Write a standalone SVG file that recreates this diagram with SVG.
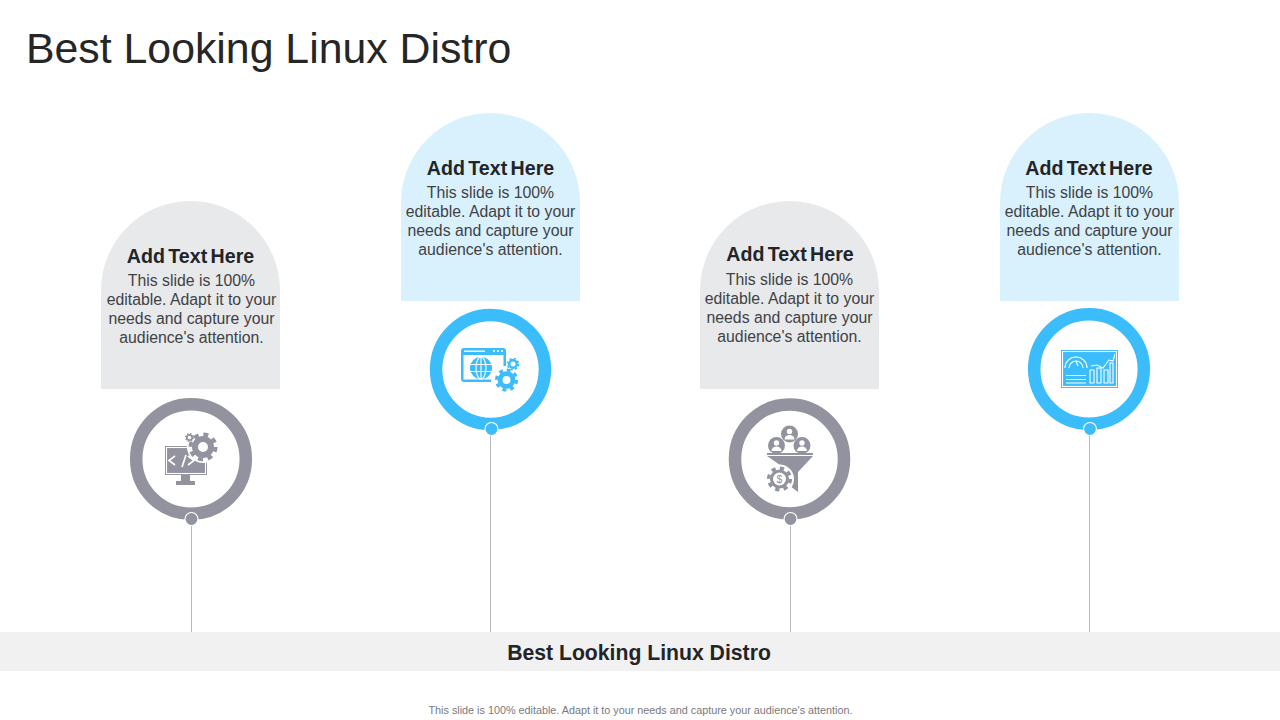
<svg xmlns="http://www.w3.org/2000/svg" width="1280" height="720" viewBox="0 0 1280 720">
<style>
text{font-family:"Liberation Sans",Arial,sans-serif}
.h{font-size:19.600px;font-weight:700;fill:#222428;text-anchor:middle;word-spacing:-2px}
.b{font-size:15.800px;fill:#3f4145;text-anchor:middle}
.ln{stroke:#b9bbc0;stroke-width:1;fill:none}
.ag{fill:#e8e9eb}.ab{fill:#d9f1fd}
.rg{fill:#fff;stroke:#92939f;stroke-width:12.500}.rb{fill:#fff;stroke:#3cbdfb;stroke-width:12.500}
.dg{fill:#92939f;stroke:#fff;stroke-width:1.200}.db{fill:#3cbdfb;stroke:#fff;stroke-width:1.200}
.ig{fill:#92939f}.ib{fill:#3cbdfb}
.w{fill:#fff}.ws{fill:none;stroke:#fff;stroke-width:1.100}.wt{fill:none;stroke:#fff;stroke-width:1.700}
</style>
<defs>
<g id="gear"><circle r="8" fill="none" stroke="currentColor" stroke-width="6"/><circle r="12.500" fill="none" stroke="currentColor" stroke-width="4" stroke-dasharray="4.909 4.909"/></g>
<g id="gear-thin"><circle r="9" fill="none" stroke="currentColor" stroke-width="6"/><circle r="13" fill="none" stroke="currentColor" stroke-width="4" stroke-dasharray="5.105 5.105"/></g>
</defs>
<rect width="1280" height="720" fill="#fff"/>
<text x="26" y="63" font-size="42.800" fill="#262626">Best Looking Linux Distro</text>
<g id="connectors">
<line class="ln" x1="191.500" y1="525" x2="191.500" y2="632"/>
<line class="ln" x1="490.500" y1="435" x2="490.500" y2="632"/>
<line class="ln" x1="790.500" y1="525" x2="790.500" y2="632"/>
<line class="ln" x1="1089.500" y1="435" x2="1089.500" y2="632"/>
</g>
<g id="node-1">
<path class="ag" d="M101 389V290.500A89.500 89.500 0 0 1 280 290.500V389Z"/>
<text class="h" x="190.500" y="263">Add Text Here</text>
<text class="b" x="191.500" y="286">This slide is 100%</text>
<text class="b" x="191.500" y="305">editable. Adapt it to your</text>
<text class="b" x="191.500" y="324">needs and capture your</text>
<text class="b" x="191.500" y="343">audience's attention.</text>
<circle class="rg" cx="191" cy="459" r="54.800"/>
<circle class="dg" cx="191.500" cy="519" r="6.500"/>
<g class="ig" style="color:#92939f">
<rect x="165" y="446" width="42" height="29"/>
<rect class="ws" x="166.500" y="447.500" width="39" height="26"/>
<rect x="181" y="475" width="9" height="6"/><rect x="176" y="481" width="19" height="4"/>
<path class="wt" d="M175 456l-6 4.500 6 4.500M186 455l-4 12M188 456l6 4.500-6 4.500"/>
<circle class="w" cx="203" cy="447" r="16"/>
<use href="#gear" transform="translate(203 447)"/>
<use href="#gear-thin" transform="translate(189.500 437.500) scale(.3)"/>
</g>
</g>
<g id="node-2">
<path class="ab" d="M401 301V202.500A89.500 89.500 0 0 1 580 202.500V301Z"/>
<text class="h" x="490.500" y="175">Add Text Here</text>
<text class="b" x="490.500" y="198">This slide is 100%</text>
<text class="b" x="490.500" y="217">editable. Adapt it to your</text>
<text class="b" x="490.500" y="236">needs and capture your</text>
<text class="b" x="490.500" y="255">audience's attention.</text>
<circle class="rb" cx="490.500" cy="369.500" r="54.400"/>
<circle class="db" cx="491.500" cy="429" r="6.500"/>
<g class="ib" style="color:#3cbdfb">
<path d="M461 351a3 3 0 0 1 3-3h39a3 3 0 0 1 3 3v31h-42a3 3 0 0 1-3-3z"/>
<rect class="w" x="463.500" y="355" width="40" height="24.500"/>
<rect class="w" x="464" y="350.500" width="21" height="1.500"/>
<circle class="w" cx="494" cy="351" r="1.100"/><circle class="w" cx="498" cy="351" r="1.100"/><circle class="w" cx="502" cy="351" r="1.100"/>
<circle cx="481" cy="368" r="11"/>
<g class="ws"><ellipse cx="481" cy="368" rx="5" ry="11"/><path d="M481 357v22M470.500 364.500h21M470.500 371.500h21"/></g>
<circle class="w" cx="505" cy="380" r="14"/>
<use href="#gear" transform="translate(506.500 380) scale(.8)"/>
<use href="#gear-thin" transform="translate(513 364) scale(.42)"/>
</g>
</g>
<g id="node-3">
<path class="ag" d="M700 389V290.500A89.500 89.500 0 0 1 879 290.500V389Z"/>
<text class="h" x="790" y="261">Add Text Here</text>
<text class="b" x="789.500" y="285">This slide is 100%</text>
<text class="b" x="789.500" y="304">editable. Adapt it to your</text>
<text class="b" x="789.500" y="323">needs and capture your</text>
<text class="b" x="789.500" y="342">audience's attention.</text>
<circle class="rg" cx="789.500" cy="459" r="54.500"/>
<circle class="dg" cx="790.500" cy="519" r="6.500"/>
<g class="ig" style="color:#92939f">
<circle cx="789.500" cy="434" r="8.500"/><circle cx="776.500" cy="445.500" r="8.500"/><circle cx="802" cy="445.500" r="8.500"/>
<g class="w"><circle cx="789.500" cy="431.500" r="2.700"/><path d="M784.500 439.500a5 4.500 0 0 1 10 0z"/><circle cx="776.500" cy="443" r="2.700"/><path d="M771.500 451a5 4.500 0 0 1 10 0z"/><circle cx="802" cy="443" r="2.700"/><path d="M797 451a5 4.500 0 0 1 10 0z"/></g>
<path d="M767 453h46v2h-46zM767 456h46l-15 16v20l-8-6v-14z"/>
<circle class="w" cx="779.500" cy="479" r="14.500"/>
<use href="#gear" transform="translate(779.500 479) scale(.87)"/>
<circle class="w" cx="779.500" cy="479" r="6.500"/>
<text x="779.500" y="483" font-size="10.500" text-anchor="middle">$</text>
</g>
</g>
<g id="node-4">
<path class="ab" d="M1000 301V202.500A89.500 89.500 0 0 1 1179 202.500V301Z"/>
<text class="h" x="1089" y="175">Add Text Here</text>
<text class="b" x="1089.500" y="198">This slide is 100%</text>
<text class="b" x="1089.500" y="217">editable. Adapt it to your</text>
<text class="b" x="1089.500" y="236">needs and capture your</text>
<text class="b" x="1089.500" y="255">audience's attention.</text>
<circle class="rb" cx="1089" cy="369" r="54.800"/>
<circle class="db" cx="1090" cy="429" r="6.500"/>
<g class="ib">
<rect x="1061" y="350" width="57" height="38"/>
<g class="ws">
<rect x="1062.500" y="351.500" width="54" height="35"/>
<path d="M1065 368a11 11 0 0 1 22 0M1069 368a7 7 0 0 1 14 0M1076 361l2 5M1066 375.500h20M1066 379.500h20M1066 383h20"/>
<path d="M1090 383v-13h4v13zM1097 383v-15h4v15zM1104 383v-13h4v13zM1110 383v-20h3v20zM1091 366l6-1 6 3 6-8 4 1 2-7"/>
</g>
</g>
</g>
<rect x="0" y="632" width="1280" height="39" fill="#f1f1f2"/>
<text x="639" y="660" font-size="21.200" font-weight="700" fill="#222428" text-anchor="middle">Best Looking Linux Distro</text>
<text x="640.500" y="714" font-size="10.800" fill="#77797e" text-anchor="middle">This slide is 100% editable. Adapt it to your needs and capture your audience's attention.</text>
</svg>
